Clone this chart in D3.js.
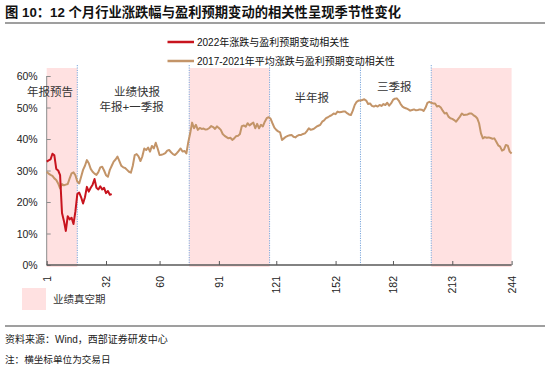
<!DOCTYPE html>
<html><head><meta charset="utf-8">
<script src="https://cdn.jsdelivr.net/npm/d3@7"></script>
<style>body{margin:0;background:#fff}svg{display:block}</style>
</head><body>
<svg id="c" width="550" height="366"></svg>
<script>
const titleText = "图 10：12 个月行业涨跌幅与盈利预期变动的相关性呈现季节性变化";
const seriesNames = ["2022年涨跌与盈利预期变动相关性", "2017-2021年平均涨跌与盈利预期变动相关性"];
const vacuumLabel = "业绩真空期";
const sourceText = "资料来源：Wind，西部证券研发中心";
const noteText = "注：横坐标单位为交易日";

// 2022 correlation (%), trading days 1..35
const values2022 = [
  32.8, 33.2, 33.5, 35.3, 34.8, 30.5, 30.0, 28.5, 16.5, 14.0,
  10.8, 15.5, 14.5, 15.0, 13.0, 17.0, 22.5, 23.0, 21.5, 19.5,
  21.5, 24.8, 23.3, 24.5, 25.5, 27.3, 24.5, 24.0, 25.0, 24.0,
  24.5, 22.8, 23.5, 22.3, 22.5
];
// 2017-2021 average correlation (%), trading days 1..244
const valuesAvg = [
  29.6, 29.0, 28.6, 28.3, 27.5, 27.0, 25.9, 24.3, 25.7, 25.3,
  25.5, 25.7, 27.5, 29.1, 29.4, 28.5, 26.5, 25.9, 28.0, 30.2,
  31.5, 33.3, 32.3, 30.5, 29.6, 29.0, 28.6, 29.5, 31.0, 31.2,
  30.0, 28.5, 28.0, 30.2, 31.5, 32.8, 33.5, 34.4, 33.0, 31.5,
  31.0, 30.8, 30.2, 29.6, 29.3, 31.5, 34.9, 35.2, 34.5, 33.0,
  34.5, 37.0, 36.5, 37.3, 36.0, 37.8, 37.0, 38.8, 37.0, 34.9,
  35.0, 35.2, 35.5, 36.3, 36.5, 35.8, 35.2, 34.9, 35.5, 36.2,
  37.0, 36.0, 36.2, 35.4, 39.0, 41.8, 45.2, 43.4, 44.5, 42.9,
  43.5, 43.2, 43.3, 43.0, 43.1, 43.5, 44.1, 43.8, 43.2, 44.0,
  43.5, 42.9, 41.6, 41.0, 40.6, 40.2, 40.4, 39.7, 40.2, 40.9,
  41.0, 41.6, 44.1, 44.3, 43.9, 45.0, 44.3, 44.8, 45.2, 43.4,
  44.8, 43.4, 44.5, 44.0, 45.5, 46.6, 46.9, 46.5, 45.0, 43.6,
  42.9, 42.4, 42.1, 39.7, 40.2, 40.7, 41.0, 41.2, 41.3, 40.7,
  40.5, 41.0, 41.3, 41.3, 41.6, 41.8, 42.5, 43.4, 42.9, 43.1,
  43.4, 43.9, 44.2, 44.5, 45.5, 45.9, 46.6, 46.9, 47.3, 47.6,
  48.1, 47.9, 48.7, 48.5, 48.6, 48.7, 48.7, 48.2, 47.8, 47.6,
  49.0, 50.8, 51.8, 52.2, 52.2, 52.4, 52.6, 52.2, 51.1, 51.3,
  50.5, 50.3, 50.6, 50.3, 50.8, 50.5, 51.1, 50.8, 51.5, 50.6,
  51.3, 52.4, 52.8, 52.9, 52.2, 51.1, 50.3, 49.9, 49.7, 49.4,
  49.0, 49.2, 49.4, 49.1, 49.2, 49.4, 49.3, 48.9, 49.9, 51.5,
  51.8, 51.5, 51.3, 51.3, 50.3, 50.5, 50.0, 49.0, 48.1, 48.3,
  47.1, 46.6, 46.4, 46.0, 45.5, 46.3, 47.1, 48.1, 47.6, 47.7,
  47.8, 48.1, 48.1, 47.6, 47.2, 46.6, 45.0, 41.8, 40.2, 40.6,
  40.4, 40.5, 40.3, 40.1, 40.2, 39.1, 38.0, 37.6, 36.3, 36.6,
  38.1, 37.9, 36.0, 35.4
];
const xTickValues = [1, 32, 60, 91, 121, 152, 182, 213, 244];
const yTickValues = [0, 10, 20, 30, 40, 50, 60];
const vacuumStarts = [1, 75.5, 202];
const vacuumEnds = [17, 117.5, 244];
const dividerDays = [17, 75.5, 117.5, 165, 202];
const annotationTexts = ["年报预告", "业绩快报", "年报+一季报", "半年报", "三季报"];
const annotationDays = [2.7, 48.2, 45.4, 139.5, 182.7];
const annotationValues = [55.0, 55.0, 50.3, 52.9, 56.6];

const svg = d3.select("#c");
const CJK = "'Liberation Sans', Arial, 'Noto Sans CJK SC', sans-serif";
const RED = "#c8141e", BROWN = "#c39468", PINK = "#ffe1e1";

const x = d3.scaleLinear().domain([1, 244]).range([46.7, 511.6]);
const y = d3.scaleLinear().domain([0, 60]).range([265, 76]);

// Title
svg.append("text").attr("x", 5).attr("y", 17).attr("font-family", CJK)
  .attr("font-size", 13.3).attr("font-weight", "bold").attr("fill", "#111").text(titleText);
svg.append("line").attr("x1", 5).attr("x2", 545).attr("y1", 23).attr("y2", 23)
  .attr("stroke", "#7f7f7f").attr("stroke-width", 1.6);

// Shading
svg.selectAll("rect.vac").data(vacuumStarts).enter().append("rect").attr("class", "vac")
  .attr("x", (d) => x(d)).attr("width", (d, i) => x(vacuumEnds[i]) - x(d))
  .attr("y", 68).attr("height", 267 - 68).attr("fill", PINK);

// Divider lines
svg.selectAll("line.div").data(dividerDays).enter().append("line").attr("class", "div")
  .attr("x1", (d) => x(d)).attr("x2", (d) => x(d)).attr("y1", 65).attr("y2", 265)
  .attr("stroke", "#7aa6dc").attr("stroke-width", 1).attr("stroke-dasharray", "1.2,1.2");

// Y axis
const yAxis = d3.axisRight(y).tickValues(yTickValues).tickSize(4).tickFormat((d) => d + "%");
const gy = svg.append("g").attr("transform", `translate(${x(1)},0)`).call(yAxis);
gy.select(".domain").attr("stroke", "#8c8c8c").attr("d", `M0,${y(60)}V${y(0)}`);
gy.selectAll(".tick line").attr("stroke", "#8c8c8c");
gy.selectAll(".tick text").attr("x", -9).attr("text-anchor", "end").attr("dy", "0.35em")
  .attr("font-family", "'Liberation Sans', Arial, sans-serif").attr("font-size", 10.5).attr("fill", "#222");

// X axis
const xAxis = d3.axisTop(x).tickValues(xTickValues).tickSize(4).tickFormat(d3.format("d"));
const gx = svg.append("g").attr("transform", `translate(0,${y(0)})`).call(xAxis);
gx.select(".domain").attr("stroke", "#595959").attr("stroke-width", 1.3).attr("d", `M${x(1)},0H${x(244)}`);
gx.selectAll(".tick line").attr("stroke", "#595959");
gx.selectAll(".tick text").attr("transform", "rotate(-90)").attr("x", -11).attr("y", 0)
  .attr("dy", "0.35em").attr("text-anchor", "end")
  .attr("font-family", "'Liberation Sans', Arial, sans-serif").attr("font-size", 10.5).attr("fill", "#222");

// Lines
const line = d3.line().x((d, i) => x(i + 1)).y((d) => y(d));
svg.append("path").datum(valuesAvg).attr("d", line).attr("fill", "none")
  .attr("stroke", BROWN).attr("stroke-width", 2).attr("stroke-linejoin", "round");
svg.append("path").datum(values2022).attr("d", line).attr("fill", "none")
  .attr("stroke", RED).attr("stroke-width", 2).attr("stroke-linejoin", "round");

// Annotations
svg.selectAll("text.ann").data(annotationTexts).enter().append("text").attr("class", "ann")
  .attr("x", (d, i) => x(annotationDays[i])).attr("y", (d, i) => y(annotationValues[i]))
  .attr("dy", "0.35em").attr("text-anchor", "middle").attr("font-family", CJK)
  .attr("font-size", 11.5).attr("fill", "#333").text((d) => d);

// Legend
const legColors = [RED, BROWN];
const legY = [42, 61];
seriesNames.forEach((name, i) => {
  svg.append("line").attr("x1", 167.5).attr("x2", 194).attr("y1", legY[i]).attr("y2", legY[i])
    .attr("stroke", legColors[i]).attr("stroke-width", 2.5);
  svg.append("text").attr("x", 197).attr("y", legY[i]).attr("dy", "0.35em")
    .attr("font-family", CJK).attr("font-size", 10).attr("fill", "#111").text(name);
});

// Bottom legend
svg.append("rect").attr("x", 22).attr("y", 288).attr("width", 24).attr("height", 22).attr("fill", PINK);
svg.append("text").attr("x", 53).attr("y", 299).attr("dy", "0.35em").attr("font-family", CJK)
  .attr("font-size", 10.5).attr("fill", "#333").text(vacuumLabel);

// Footer
svg.append("line").attr("x1", 5).attr("x2", 545).attr("y1", 326).attr("y2", 326)
  .attr("stroke", "#7f7f7f").attr("stroke-width", 1.6);
svg.append("text").attr("x", 5).attr("y", 339.5).attr("dy", "0.35em").attr("font-family", CJK)
  .attr("font-size", 10).attr("fill", "#222").text(sourceText);
svg.append("text").attr("x", 5).attr("y", 360).attr("dy", "0.35em").attr("font-family", CJK)
  .attr("font-size", 9.6).attr("fill", "#222").text(noteText);
</script>
</body></html>
